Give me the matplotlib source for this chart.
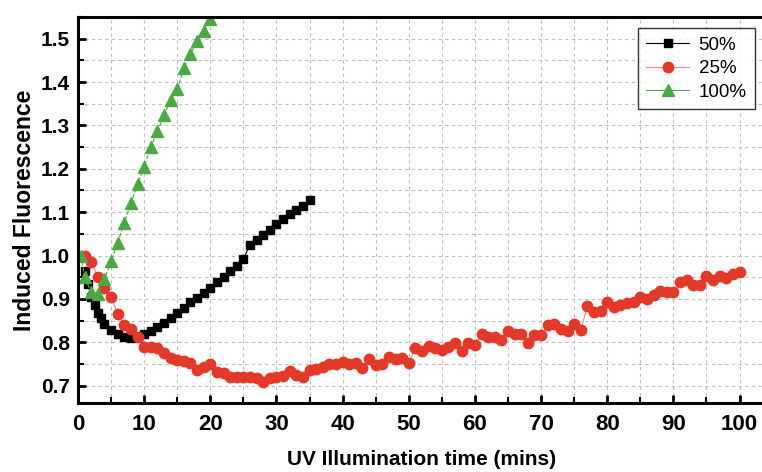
import matplotlib
matplotlib.use("Agg")
import matplotlib.pyplot as plt
from matplotlib.ticker import MultipleLocator

# ---- data ----
x_50 = [1, 1.5, 2, 2.5, 3, 3.5, 4, 5, 6, 7, 8, 9, 10, 11, 12, 13, 14, 15, 16, 17,
        18, 19, 20, 21, 22, 23, 24, 25, 26, 27, 28, 29, 30, 31, 32, 33, 34, 35]
y_50 = [0.965, 0.935, 0.905, 0.885, 0.868, 0.855, 0.843, 0.828, 0.818, 0.812, 0.81,
        0.812, 0.818, 0.826, 0.835, 0.845, 0.856, 0.868, 0.88, 0.892, 0.903, 0.914,
        0.926, 0.939, 0.951, 0.964, 0.977, 0.992, 1.025, 1.036, 1.048, 1.06, 1.073,
        1.084, 1.095, 1.105, 1.115, 1.127]

x_25 = list(range(1, 101))
y_25 = [1.0, 0.985, 0.95, 0.925, 0.905, 0.865, 0.84, 0.83, 0.812, 0.789,
        0.788, 0.786, 0.775, 0.764, 0.76, 0.757, 0.752, 0.737, 0.742, 0.75,
        0.732, 0.73, 0.72, 0.72, 0.721, 0.719, 0.718, 0.708, 0.718, 0.719,
        0.723, 0.733, 0.725, 0.721, 0.736, 0.738, 0.742, 0.75, 0.75, 0.755,
        0.75, 0.752, 0.74, 0.762, 0.748, 0.75, 0.767, 0.762, 0.764, 0.752,
        0.787, 0.779, 0.792, 0.787, 0.782, 0.789, 0.798, 0.779, 0.798, 0.794,
        0.818, 0.812, 0.813, 0.806, 0.827, 0.818, 0.819, 0.799, 0.816, 0.816,
        0.839, 0.841, 0.831, 0.827, 0.843, 0.829, 0.883, 0.87, 0.873, 0.893,
        0.881, 0.887, 0.89, 0.893, 0.904, 0.9, 0.908, 0.918, 0.916, 0.916,
        0.939, 0.944, 0.931, 0.931, 0.952, 0.944, 0.952, 0.949, 0.958, 0.962]

x_100 = [0.5, 1, 2, 3, 4, 5, 6, 7, 8, 9, 10, 11, 12, 13, 14, 15, 16, 17, 18, 19, 20]
y_100 = [1.0, 0.95, 0.915, 0.912, 0.945, 0.987, 1.03, 1.075, 1.12, 1.164, 1.205,
         1.25, 1.287, 1.323, 1.359, 1.383, 1.432, 1.464, 1.495, 1.517, 1.545]

labels = ["50%", "25%", "100%"]
xticks = [0, 10, 20, 30, 40, 50, 60, 70, 80, 90, 100]
yticks = [0.7, 0.8, 0.9, 1.0, 1.1, 1.2, 1.3, 1.4, 1.5]

# ---- figure ----
fig = plt.figure(figsize=(7.62, 4.72), dpi=100)
ax = fig.add_axes([78 / 762, 69 / 472, 688 / 762, 386 / 472])

red = "#e2392b"
green = "#4aa845"

ax.plot(x_50, y_50, color="black", lw=0.8, marker="s", ms=6.3, mec="black",
        mfc="black", label=labels[0])
ax.plot(x_25, y_25, color="#f08a80", lw=0.8, marker="o", ms=7.5,
        mec=red, mfc=red, label=labels[1])
ax.plot(x_100, y_100, color=green, lw=0.8, ls="--", marker="^", ms=8,
        mec=green, mfc=green, label=labels[2])

ax.set_xlim(0, 104)
ax.set_ylim(0.66, 1.55)
ax.set_xticks(xticks)
ax.set_yticks(yticks)
ax.set_yticklabels([f"{v:.1f}" for v in yticks])
ax.xaxis.set_minor_locator(MultipleLocator(5))
ax.yaxis.set_minor_locator(MultipleLocator(0.05))

ax.grid(True, which="both", color="#bdbdbd", ls=(0, (3, 3)), lw=0.8)
ax.set_axisbelow(True)

for s in ["left", "bottom", "top"]:
    ax.spines[s].set_linewidth(2.2)
ax.spines["right"].set_visible(False)

ax.tick_params(which="major", direction="in", length=6, width=2, top=False,
               right=False)
ax.tick_params(axis="x", which="major", pad=8)
ax.tick_params(axis="y", which="major", pad=6)
ax.tick_params(which="minor", direction="in", length=4, width=1.5, top=False,
               right=False)

for lab in ax.get_xticklabels():
    lab.set_fontfamily(["Liberation Sans", "DejaVu Sans"])
    lab.set_fontweight("bold")
    lab.set_fontsize(16)
for lab in ax.get_yticklabels():
    lab.set_fontfamily(["Liberation Sans", "DejaVu Sans"])
    lab.set_fontweight("bold")
    lab.set_fontsize(15)

ax.set_xlabel("UV Illumination time (mins)", fontsize=15, fontweight="bold",
              family=["Liberation Sans", "DejaVu Sans"], labelpad=11)
ax.set_ylabel("Induced Fluorescence", fontsize=16.5, fontweight="bold",
              family=["Liberation Sans", "DejaVu Sans"], labelpad=3)

leg = ax.legend(loc="upper right", bbox_to_anchor=(755 / 762, 1 - 28 / 472),
                bbox_transform=fig.transFigure,
                prop={"family": ["Liberation Sans", "DejaVu Sans"], "size": 13.5},
                frameon=True, fancybox=False, edgecolor="black",
                handlelength=2.3, borderpad=0.45, labelspacing=0.35,
                handletextpad=0.5, borderaxespad=0)
leg.get_frame().set_linewidth(1.0)
for h in leg.get_lines():
    h.set_linestyle("-")

fig.savefig("out.png", dpi=100)
